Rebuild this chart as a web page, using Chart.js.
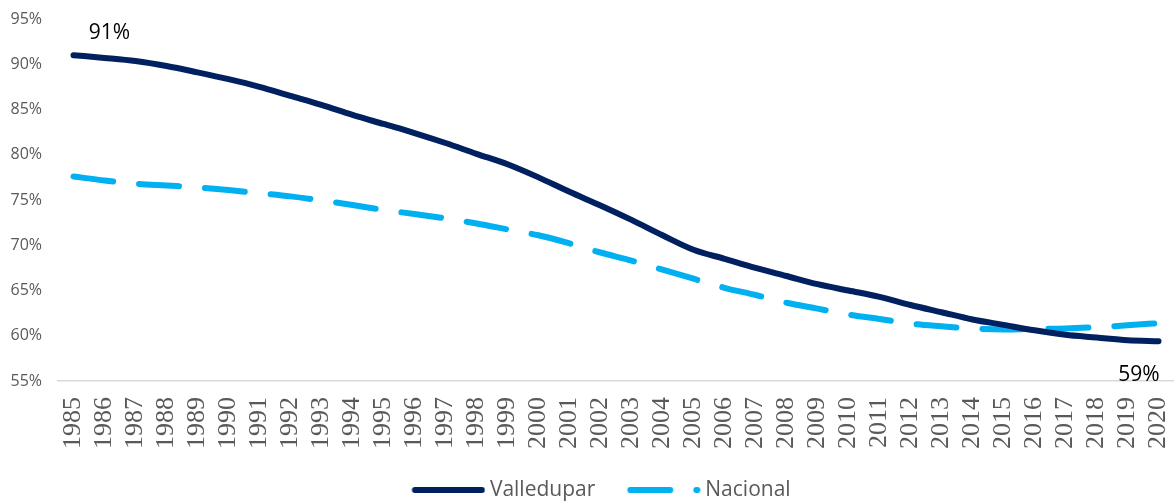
<!DOCTYPE html>
<html>
<head>
<meta charset="utf-8">
<script src="https://cdn.jsdelivr.net/npm/chart.js@4.4.1/dist/chart.umd.min.js"></script>
<style>
  html, body { margin: 0; padding: 0; background: #ffffff; overflow: hidden; }
  #wrap { width: 1174px; height: 501px; }
</style>
</head>
<body>
<div id="wrap"><canvas id="chart" width="1174" height="501"></canvas></div>
<script>
// Years on the category axis
const years = ['1985','1986','1987','1988','1989','1990','1991','1992','1993','1994',
               '1995','1996','1997','1998','1999','2000','2001','2002','2003','2004',
               '2005','2006','2007','2008','2009','2010','2011','2012','2013','2014',
               '2015','2016','2017','2018','2019','2020'];

// Share (%) per year
const valledupar = [91.0, 90.7, 90.35, 89.8, 89.1, 88.35, 87.5, 86.5, 85.5, 84.4,
                    83.4, 82.4, 81.3, 80.1, 78.95, 77.5, 75.9, 74.4, 72.8, 71.1,
                    69.5, 68.5, 67.5, 66.6, 65.7, 65.0, 64.3, 63.4, 62.6, 61.8,
                    61.2, 60.6, 60.1, 59.8, 59.5, 59.4];
const nacional = [77.6, 77.15, 76.8, 76.6, 76.4, 76.1, 75.75, 75.4, 74.95, 74.45,
                  73.9, 73.45, 72.97, 72.4, 71.75, 71.1, 70.2, 69.2, 68.3, 67.3,
                  66.3, 65.3, 64.5, 63.65, 63.0, 62.35, 61.85, 61.35, 61.05, 60.8,
                  60.7, 60.75, 60.8, 60.95, 61.15, 61.4];

// Value axis range and step
const yMin = 55;
const yMax = 95;
const yStep = 5;

const seriesNames = ['Valledupar', 'Nacional'];
const seriesColors = ['#002060', '#00B0F0'];
const dashPattern = [40, 26];
const lineWidth = 6;

// Small canvas used as the legend swatch (a short stroke in the series style)
function legendSwatch(color, dash) {
  const c = document.createElement('canvas');
  c.width = 80; c.height = 12;
  const g = c.getContext('2d');
  g.strokeStyle = color;
  g.lineWidth = lineWidth;
  g.lineCap = 'round';
  g.setLineDash(dash);
  g.beginPath();
  g.moveTo(9.5, 6);
  g.lineTo(76.5, 6);
  g.stroke();
  return c;
}
const swatches = [legendSwatch(seriesColors[0], []), legendSwatch(seriesColors[1], dashPattern)];

// Moves the legend row slightly right and down
const legendNudge = {
  id: 'legendNudge',
  afterLayout(chart) {
    const l = chart.legend;
    if (!l) return;
    l.left += 14; l.right += 14;
    l.top += 9.5; l.bottom += 9.5;
  }
};

// Vertical year labels under the category axis, placed at the scale's tick pixels
const verticalYearLabels = {
  id: 'verticalYearLabels',
  afterDraw(chart) {
    const xs = chart.scales.x;
    const ctx = chart.ctx;
    ctx.save();
    ctx.font = '26px "Liberation Serif", "Times New Roman", serif';
    ctx.fillStyle = '#595959';
    ctx.textAlign = 'right';
    ctx.textBaseline = 'middle';
    xs.ticks.forEach((t, i) => {
      const px = xs.getPixelForTick(i);
      ctx.save();
      ctx.translate(px, xs.top + 16);
      ctx.rotate(-Math.PI / 2);
      ctx.fillText(xs.getLabelForValue(t.value), 0, 0);
      ctx.restore();
    });
    ctx.restore();
  }
};

// First and last value of the Valledupar series written next to the line
const endValueLabels = {
  id: 'endValueLabels',
  afterDatasetsDraw(chart) {
    const meta = chart.getDatasetMeta(0);
    const pts = meta.data;
    const first = pts[0];
    const last = pts[pts.length - 1];
    const ctx = chart.ctx;
    ctx.save();
    ctx.font = '21px "Open Sans"';
    ctx.fillStyle = '#000000';
    ctx.textBaseline = 'middle';
    ctx.textAlign = 'center';
    ctx.fillText(Math.round(valledupar[0]) + '%', first.x + 36, first.y - 22);
    ctx.textAlign = 'right';
    ctx.fillText(Math.round(valledupar[valledupar.length - 1]) + '%', last.x + 1, last.y + 34);
    ctx.restore();
  }
};

Chart.defaults.font.family = '"Open Sans", "DejaVu Sans", sans-serif';

new Chart(document.getElementById('chart'), {
  type: 'line',
  data: {
    labels: years,
    datasets: [
      {
        label: seriesNames[0],
        data: valledupar,
        borderColor: seriesColors[0],
        backgroundColor: seriesColors[0],
        borderWidth: lineWidth,
        borderCapStyle: 'round',
        borderJoinStyle: 'round',
        pointRadius: 0,
        cubicInterpolationMode: 'monotone',
        fill: false
      },
      {
        label: seriesNames[1],
        data: nacional,
        borderColor: seriesColors[1],
        backgroundColor: seriesColors[1],
        borderWidth: lineWidth,
        borderDash: dashPattern,
        borderCapStyle: 'round',
        borderJoinStyle: 'round',
        pointRadius: 0,
        cubicInterpolationMode: 'monotone',
        fill: false
      }
    ]
  },
  options: {
    responsive: false,
    animation: false,
    layout: { padding: { top: 19, right: 0, bottom: 0, left: 0 } },
    plugins: {
      tooltip: { enabled: false },
      legend: {
        position: 'bottom',
        labels: {
          usePointStyle: true,
          pointStyleWidth: 68,
          padding: 31.5,
          color: '#595959',
          font: { size: 21 },
          generateLabels(chart) {
            const items = Chart.defaults.plugins.legend.labels.generateLabels(chart);
            return items.map((it, i) => Object.assign(it, { pointStyle: swatches[i], fontColor: '#595959' }));
          }
        }
      }
    },
    scales: {
      x: {
        offset: true,
        grid: { display: false, drawTicks: false, offset: true },
        border: { display: true, color: '#d9d9d9', width: 1.5 },
        ticks: { display: false, autoSkip: false },
        afterFit(s) { s.height = 57.5; s.paddingLeft = 0; s.paddingRight = 0; }
      },
      y: {
        min: yMin,
        max: yMax,
        grid: { display: false, drawTicks: false },
        border: { display: false },
        ticks: {
          stepSize: yStep,
          padding: 16,
          color: '#595959',
          font: { size: 16 },
          callback: v => v + '%'
        },
        afterFit(s) { s.width = 58; s.paddingTop = 0; s.paddingBottom = 0; }
      }
    }
  },
  plugins: [legendNudge, verticalYearLabels, endValueLabels]
});
</script>
</body>
</html>
